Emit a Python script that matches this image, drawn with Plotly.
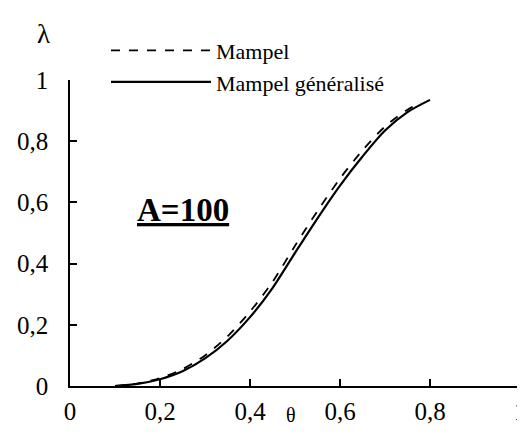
import plotly.graph_objects as go

theta_mampel = [0.10, 0.15, 0.20, 0.25, 0.30, 0.35, 0.40, 0.45, 0.50, 0.55, 0.60, 0.65, 0.70, 0.75, 0.78]
lambda_mampel = [0.0, 0.008, 0.026, 0.055, 0.10, 0.162, 0.243, 0.34, 0.458, 0.572, 0.678, 0.77, 0.848, 0.903, 0.925]

theta_gen = [0.10, 0.15, 0.20, 0.25, 0.30, 0.35, 0.40, 0.45, 0.50, 0.55, 0.60, 0.65, 0.70, 0.75, 0.80]
lambda_gen = [0.0, 0.007, 0.022, 0.048, 0.09, 0.148, 0.225, 0.32, 0.435, 0.548, 0.655, 0.75, 0.835, 0.895, 0.935]

tick_vals = [0, 0.2, 0.4, 0.6, 0.8, 1]
tick_text = ["0", "0,2", "0,4", "0,6", "0,8", "1"]

FONT = "Liberation Serif, Times New Roman, serif"

fig = go.Figure()
fig.add_trace(go.Scatter(x=theta_mampel, y=lambda_mampel, mode="lines", name="Mampel",
                         line=dict(color="black", width=1.8, dash="dash", shape="spline", smoothing=0.8)))
fig.add_trace(go.Scatter(x=theta_gen, y=lambda_gen, mode="lines", name="Mampel généralisé",
                         line=dict(color="black", width=2.2, shape="spline", smoothing=0.8)))

axis_common = dict(
    range=[0, 1], tickvals=tick_vals, ticktext=tick_text,
    showline=True, linecolor="black", linewidth=1.5,
    ticks="inside", ticklen=7, tickwidth=1.5, tickcolor="black",
    showgrid=False, zeroline=False,
    tickfont=dict(family=FONT, size=25, color="black"),
)

fig.update_layout(
    width=525, height=433,
    margin=dict(l=62, r=7, t=72, b=55),
    paper_bgcolor="white", plot_bgcolor="white",
    font=dict(family=FONT, color="black"),
    xaxis=dict(**axis_common, ticklabelstandoff=2),
    yaxis=dict(**axis_common, ticklabelstandoff=15),
    showlegend=True,
    legend=dict(x=0.08, y=1.165, xanchor="left", yanchor="top",
                font=dict(family=FONT, size=22, color="black"),
                bgcolor="rgba(0,0,0,0)", itemwidth=100, tracegroupgap=0),
    annotations=[
        dict(text="λ", xref="paper", yref="paper", x=-0.06, y=1.15, showarrow=False,
             font=dict(family=FONT, size=27, color="black"), xanchor="center", yanchor="middle"),
        dict(text="θ", xref="paper", yref="paper", x=0.49, y=-0.095, showarrow=False,
             font=dict(family=FONT, size=20, color="black"), xanchor="center", yanchor="middle"),
        dict(text="<u><b>A=100</b></u>", x=0.252, y=0.575, xref="x", yref="y", showarrow=False,
             font=dict(family=FONT, size=33, color="black"), xanchor="center", yanchor="middle"),
    ],
)

fig.write_html("out.html")
